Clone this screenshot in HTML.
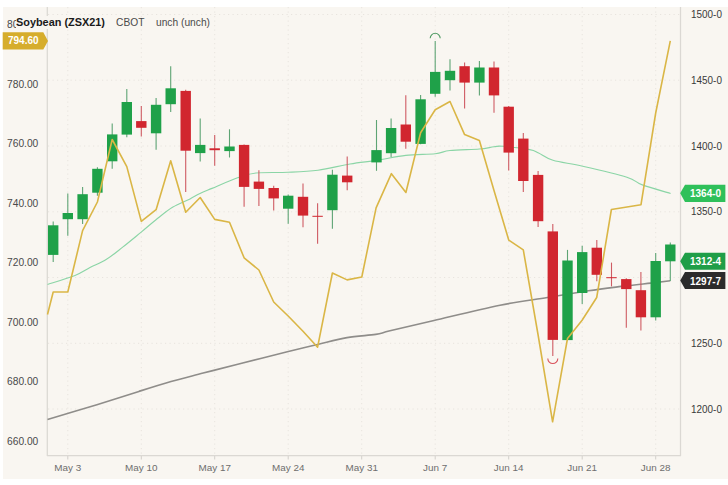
<!DOCTYPE html>
<html><head><meta charset="utf-8"><title>Soybean (ZSX21)</title>
<style>
html,body{margin:0;padding:0;background:#fff;}
body{width:728px;height:485px;overflow:hidden;position:relative;font-family:"Liberation Sans",sans-serif;}
#bg{position:absolute;left:2.5px;top:7px;width:725.5px;height:471.5px;background:#f9f6f1;}
svg{position:absolute;left:0;top:0;}
.grid{stroke:#e8e4de;stroke-width:1;stroke-dasharray:1.2 3.3;}
.ll,.rl,.xl,.t{position:absolute;color:#4a4a4a;white-space:nowrap;line-height:14px;height:14px;}
.ll{left:7px;font-size:10.7px;transform:scaleX(0.957);transform-origin:0 50%;}
.rl{left:690.9px;color:#3a3a3a;font-size:10.4px;transform:scaleX(0.955);transform-origin:0 50%;}
.xl{top:460.9px;width:60px;text-align:center;font-size:9.9px;color:#6e6e6e;}
.bl{position:absolute;color:#fff;font-weight:bold;font-size:10.7px;line-height:14px;white-space:nowrap;transform:scaleX(0.935);transform-origin:0 50%;}
#title{position:absolute;left:14.7px;top:12.6px;height:18px;line-height:18px;padding-left:1px;white-space:nowrap;color:#4a4a4a;font-size:10.6px;}
#title b{color:#1a1a1a;font-size:11px;display:inline-block;width:100.3px;height:13px;line-height:13px;background:linear-gradient(90deg,#f9f6f1 92px,transparent 92px);transform:scaleX(0.99);transform-origin:0 50%;}
#title span{display:inline-block;transform:scaleX(0.965);transform-origin:0 50%;}
#title span.c{width:40px;}
</style></head><body>
<div id="bg"></div>
<svg width="728" height="485" viewBox="0 0 728 485">
<line x1="48" y1="14.5" x2="680" y2="14.5" class="grid"/>
<line x1="48" y1="80.2" x2="680" y2="80.2" class="grid"/>
<line x1="48" y1="146" x2="680" y2="146" class="grid"/>
<line x1="48" y1="211.8" x2="680" y2="211.8" class="grid"/>
<line x1="48" y1="277.5" x2="680" y2="277.5" class="grid"/>
<line x1="48" y1="343.3" x2="680" y2="343.3" class="grid"/>
<line x1="48" y1="409" x2="680" y2="409" class="grid"/>
<line x1="67.8" y1="7" x2="67.8" y2="455" class="grid"/>
<line x1="67.8" y1="455.5" x2="67.8" y2="459.5" stroke="#d2cfca" stroke-width="1"/>
<line x1="141.3" y1="7" x2="141.3" y2="455" class="grid"/>
<line x1="141.3" y1="455.5" x2="141.3" y2="459.5" stroke="#d2cfca" stroke-width="1"/>
<line x1="214.7" y1="7" x2="214.7" y2="455" class="grid"/>
<line x1="214.7" y1="455.5" x2="214.7" y2="459.5" stroke="#d2cfca" stroke-width="1"/>
<line x1="288.2" y1="7" x2="288.2" y2="455" class="grid"/>
<line x1="288.2" y1="455.5" x2="288.2" y2="459.5" stroke="#d2cfca" stroke-width="1"/>
<line x1="361.7" y1="7" x2="361.7" y2="455" class="grid"/>
<line x1="361.7" y1="455.5" x2="361.7" y2="459.5" stroke="#d2cfca" stroke-width="1"/>
<line x1="435.2" y1="7" x2="435.2" y2="455" class="grid"/>
<line x1="435.2" y1="455.5" x2="435.2" y2="459.5" stroke="#d2cfca" stroke-width="1"/>
<line x1="508.7" y1="7" x2="508.7" y2="455" class="grid"/>
<line x1="508.7" y1="455.5" x2="508.7" y2="459.5" stroke="#d2cfca" stroke-width="1"/>
<line x1="582.2" y1="7" x2="582.2" y2="455" class="grid"/>
<line x1="582.2" y1="455.5" x2="582.2" y2="459.5" stroke="#d2cfca" stroke-width="1"/>
<line x1="655.7" y1="7" x2="655.7" y2="455" class="grid"/>
<line x1="655.7" y1="455.5" x2="655.7" y2="459.5" stroke="#d2cfca" stroke-width="1"/>
<line x1="47.3" y1="7" x2="47.3" y2="456" stroke="#dbd8d3" stroke-width="1.25"/>
<line x1="680.5" y1="7" x2="680.5" y2="456" stroke="#dbd8d3" stroke-width="1.25"/>
<line x1="47" y1="455.5" x2="681" y2="455.5" stroke="#dbd8d3" stroke-width="1.25"/>
<path d="M47.5 419.6 C55.7 417.1 81.7 409.4 96.9 404.7 C112.1 400.0 126.6 395.3 138.9 391.4 C151.2 387.5 160.3 384.6 171.0 381.5 C181.7 378.4 192.1 376.0 203.2 373.1 C214.3 370.2 223.8 367.8 237.8 364.2 C251.8 360.6 274.0 355.1 287.3 351.8 C300.6 348.5 307.7 346.9 317.6 344.5 C327.6 342.1 337.3 339.3 347.0 337.6 C356.7 335.9 368.5 335.5 375.7 334.4 C382.9 333.3 380.3 333.1 390.0 330.8 C399.7 328.5 415.7 324.8 434.0 320.5 C452.3 316.2 481.1 309.0 500.0 305.2 C518.9 301.4 532.8 299.9 547.5 297.5 C562.2 295.1 576.0 292.7 588.3 290.8 C600.6 288.9 611.0 287.7 621.4 286.4 C631.8 285.1 642.8 284.0 650.9 283.1 C659.0 282.2 667.1 281.2 670.3 280.8" fill="none" stroke="#8f8d8a" stroke-width="1.6" stroke-linejoin="round"/>
<path d="M47.5 284.5 C52.1 283.0 67.9 278.3 75.0 275.5 C82.1 272.7 84.8 270.3 90.0 267.6 C95.2 264.9 101.0 262.8 106.5 259.3 C112.0 255.9 117.2 251.4 123.0 246.9 C128.8 242.4 135.7 236.6 141.2 232.1 C146.7 227.6 150.8 223.8 156.0 219.7 C161.2 215.6 166.8 210.8 172.5 207.3 C178.2 203.8 185.4 201.2 190.0 198.9 C194.6 196.6 196.3 195.2 200.0 193.5 C203.7 191.8 205.8 191.0 212.0 188.4 C218.2 185.8 230.2 180.4 237.5 177.8 C244.8 175.2 247.6 173.9 256.0 173.0 C264.4 172.1 277.7 172.8 288.0 172.3 C298.3 171.9 307.7 171.7 318.0 170.3 C328.3 168.9 340.2 165.7 350.0 164.0 C359.8 162.3 367.2 161.8 376.5 160.4 C385.8 159.0 396.0 156.5 405.8 155.4 C415.6 154.3 427.8 154.6 435.2 153.8 C442.6 153.0 442.6 151.3 450.0 150.5 C457.4 149.7 472.1 149.6 479.4 149.0 C486.7 148.4 490.1 147.2 494.0 146.8 C497.9 146.4 497.1 145.8 503.0 146.3 C508.9 146.8 523.8 148.5 529.7 149.6 C535.6 150.7 534.7 151.1 538.6 152.9 C542.5 154.7 545.6 158.0 553.0 160.2 C560.4 162.4 570.4 163.4 582.7 166.2 C595.0 169.0 617.0 174.1 626.9 177.2 C636.8 180.3 635.0 182.2 642.3 184.9 C649.6 187.6 665.9 192.1 670.6 193.5" fill="none" stroke="#8bd5a6" stroke-width="1.15" stroke-linejoin="round"/>
<line x1="53.2" y1="221.4" x2="53.2" y2="262" stroke="#5ea474" stroke-width="1.1"/>
<rect x="48.0" y="225.3" width="10.4" height="29.6" fill="#1fa149"/>
<line x1="67.8" y1="193.6" x2="67.8" y2="235.7" stroke="#5ea474" stroke-width="1.1"/>
<rect x="62.6" y="213" width="10.4" height="6.2" fill="#1fa149"/>
<line x1="82.6" y1="186.9" x2="82.6" y2="224" stroke="#5ea474" stroke-width="1.1"/>
<rect x="77.4" y="194.2" width="10.4" height="25.0" fill="#1fa149"/>
<line x1="97.4" y1="167.3" x2="97.4" y2="195.8" stroke="#5ea474" stroke-width="1.1"/>
<rect x="92.2" y="168.8" width="10.4" height="23.9" fill="#1fa149"/>
<line x1="112.2" y1="123.6" x2="112.2" y2="168.8" stroke="#5ea474" stroke-width="1.1"/>
<rect x="107.0" y="134.4" width="10.4" height="26.9" fill="#1fa149"/>
<line x1="126.8" y1="89.1" x2="126.8" y2="137.3" stroke="#5ea474" stroke-width="1.1"/>
<rect x="121.6" y="102" width="10.4" height="32.6" fill="#1fa149"/>
<line x1="141.3" y1="105.9" x2="141.3" y2="136.4" stroke="#cf5b63" stroke-width="1.1"/>
<rect x="136.1" y="121.1" width="10.4" height="6.7" fill="#d1262f"/>
<line x1="156.1" y1="98" x2="156.1" y2="149.8" stroke="#5ea474" stroke-width="1.1"/>
<rect x="150.9" y="104.8" width="10.4" height="28.5" fill="#1fa149"/>
<line x1="170.7" y1="66.2" x2="170.7" y2="111.9" stroke="#5ea474" stroke-width="1.1"/>
<rect x="165.5" y="88.3" width="10.4" height="15.9" fill="#1fa149"/>
<line x1="185.7" y1="89.8" x2="185.7" y2="192" stroke="#cf5b63" stroke-width="1.1"/>
<rect x="180.5" y="90.9" width="10.4" height="59.8" fill="#d1262f"/>
<line x1="200.2" y1="118.5" x2="200.2" y2="161.5" stroke="#5ea474" stroke-width="1.1"/>
<rect x="195.0" y="144.9" width="10.4" height="8.2" fill="#1fa149"/>
<line x1="214.7" y1="135" x2="214.7" y2="165.7" stroke="#cf5b63" stroke-width="1.1"/>
<rect x="209.5" y="148.3" width="10.4" height="1.9" fill="#d1262f"/>
<line x1="229.5" y1="129.3" x2="229.5" y2="157.5" stroke="#5ea474" stroke-width="1.1"/>
<rect x="224.3" y="146.5" width="10.4" height="4.6" fill="#1fa149"/>
<line x1="244.1" y1="144.5" x2="244.1" y2="206.8" stroke="#cf5b63" stroke-width="1.1"/>
<rect x="238.9" y="144.9" width="10.4" height="42.0" fill="#d1262f"/>
<line x1="258.9" y1="170.3" x2="258.9" y2="206.1" stroke="#cf5b63" stroke-width="1.1"/>
<rect x="253.7" y="181.6" width="10.4" height="7.3" fill="#d1262f"/>
<line x1="273.7" y1="185.8" x2="273.7" y2="210.5" stroke="#cf5b63" stroke-width="1.1"/>
<rect x="268.5" y="188" width="10.4" height="10.4" fill="#d1262f"/>
<line x1="288.2" y1="194.6" x2="288.2" y2="223.8" stroke="#5ea474" stroke-width="1.1"/>
<rect x="283.0" y="195.7" width="10.4" height="13.0" fill="#1fa149"/>
<line x1="303" y1="183.6" x2="303" y2="227.2" stroke="#cf5b63" stroke-width="1.1"/>
<rect x="297.8" y="196.8" width="10.4" height="18.8" fill="#d1262f"/>
<line x1="317.6" y1="203.3" x2="317.6" y2="243.7" stroke="#cf5b63" stroke-width="1.1"/>
<rect x="312.4" y="215.8" width="10.4" height="1.0" fill="#d1262f"/>
<line x1="332.4" y1="169.7" x2="332.4" y2="228.7" stroke="#5ea474" stroke-width="1.1"/>
<rect x="327.2" y="174.7" width="10.4" height="35.5" fill="#1fa149"/>
<line x1="347.2" y1="156.4" x2="347.2" y2="190.2" stroke="#cf5b63" stroke-width="1.1"/>
<rect x="342.0" y="175.6" width="10.4" height="6.7" fill="#d1262f"/>
<line x1="376.5" y1="120" x2="376.5" y2="170.8" stroke="#5ea474" stroke-width="1.1"/>
<rect x="371.3" y="150.1" width="10.4" height="12.3" fill="#1fa149"/>
<line x1="391.1" y1="118.5" x2="391.1" y2="157.1" stroke="#5ea474" stroke-width="1.1"/>
<rect x="385.9" y="128" width="10.4" height="25.2" fill="#1fa149"/>
<line x1="405.8" y1="95.3" x2="405.8" y2="148.7" stroke="#cf5b63" stroke-width="1.1"/>
<rect x="400.6" y="124.5" width="10.4" height="17.2" fill="#d1262f"/>
<line x1="420.6" y1="95" x2="420.6" y2="144.2" stroke="#5ea474" stroke-width="1.1"/>
<rect x="415.4" y="99.3" width="10.4" height="44.6" fill="#1fa149"/>
<line x1="435.2" y1="41.1" x2="435.2" y2="96.8" stroke="#5ea474" stroke-width="1.1"/>
<rect x="430.0" y="71.9" width="10.4" height="21.9" fill="#1fa149"/>
<line x1="450" y1="59.2" x2="450" y2="90.5" stroke="#5ea474" stroke-width="1.1"/>
<rect x="444.8" y="70.8" width="10.4" height="9.4" fill="#1fa149"/>
<line x1="464.6" y1="62.5" x2="464.6" y2="108.6" stroke="#cf5b63" stroke-width="1.1"/>
<rect x="459.4" y="66.2" width="10.4" height="16.4" fill="#d1262f"/>
<line x1="479.4" y1="60.9" x2="479.4" y2="95.5" stroke="#5ea474" stroke-width="1.1"/>
<rect x="474.2" y="67.5" width="10.4" height="15.1" fill="#1fa149"/>
<line x1="494" y1="61.5" x2="494" y2="112.8" stroke="#cf5b63" stroke-width="1.1"/>
<rect x="488.8" y="67.5" width="10.4" height="27.9" fill="#d1262f"/>
<line x1="508.7" y1="106" x2="508.7" y2="170.6" stroke="#cf5b63" stroke-width="1.1"/>
<rect x="503.5" y="106.7" width="10.4" height="45.9" fill="#d1262f"/>
<line x1="523.3" y1="133" x2="523.3" y2="192" stroke="#cf5b63" stroke-width="1.1"/>
<rect x="518.1" y="138.6" width="10.4" height="42.4" fill="#d1262f"/>
<line x1="538.1" y1="171.1" x2="538.1" y2="227" stroke="#cf5b63" stroke-width="1.1"/>
<rect x="532.9" y="174.9" width="10.4" height="46.3" fill="#d1262f"/>
<line x1="552.8" y1="224.1" x2="552.8" y2="356" stroke="#cf5b63" stroke-width="1.1"/>
<rect x="547.6" y="231.4" width="10.4" height="108.5" fill="#d1262f"/>
<line x1="567.5" y1="249.9" x2="567.5" y2="340.1" stroke="#5ea474" stroke-width="1.1"/>
<rect x="562.3" y="260.5" width="10.4" height="79.6" fill="#1fa149"/>
<line x1="582.2" y1="245.7" x2="582.2" y2="304.1" stroke="#5ea474" stroke-width="1.1"/>
<rect x="577.0" y="252.1" width="10.4" height="40.9" fill="#1fa149"/>
<line x1="596.8" y1="240" x2="596.8" y2="281.3" stroke="#cf5b63" stroke-width="1.1"/>
<rect x="591.6" y="247.7" width="10.4" height="27.1" fill="#d1262f"/>
<line x1="611.5" y1="262.6" x2="611.5" y2="286.4" stroke="#cf5b63" stroke-width="1.1"/>
<rect x="606.3" y="277.2" width="10.4" height="1.0" fill="#d1262f"/>
<line x1="626.3" y1="278.3" x2="626.3" y2="327.7" stroke="#cf5b63" stroke-width="1.1"/>
<rect x="621.1" y="279.1" width="10.4" height="10.0" fill="#d1262f"/>
<line x1="640.9" y1="272" x2="640.9" y2="330.6" stroke="#cf5b63" stroke-width="1.1"/>
<rect x="635.7" y="290.2" width="10.4" height="27.1" fill="#d1262f"/>
<line x1="655.7" y1="253" x2="655.7" y2="320.6" stroke="#5ea474" stroke-width="1.1"/>
<rect x="650.5" y="261" width="10.4" height="56.3" fill="#1fa149"/>
<line x1="670.3" y1="242.4" x2="670.3" y2="281" stroke="#5ea474" stroke-width="1.1"/>
<rect x="665.1" y="244.5" width="10.4" height="16.8" fill="#1fa149"/>
<polyline points="47.5,314.5 53.2,292.0 67.8,292.0 82.6,230.6 97.4,202.0 112.2,139.5 126.8,166.6 141.3,221.4 156.1,209.7 170.7,160.7 185.7,212.3 200.2,197.5 214.7,219.4 229.5,222.3 244.1,257.8 258.9,270.0 273.7,302.0 288.4,316.3 303.0,331.2 317.6,347.2 332.4,273.0 347.1,279.9 361.8,277.0 376.1,207.8 391.4,173.7 405.9,192.5 420.6,132.8 435.2,109.7 450.0,101.5 464.6,134.6 479.4,140.6 494.0,190.4 508.8,240.2 523.3,249.9 538.1,335.0 552.6,421.8 567.5,338.5 582.1,320.2 596.7,297.5 611.4,209.5 641.0,204.7 655.7,113.0 670.3,40.9" fill="none" stroke="#dab646" stroke-width="1.6" stroke-linejoin="round"/>
<path d="M430.2 38.3 A5 5 0 0 1 440.2 38.3" fill="none" stroke="#4f9a63" stroke-width="1.1"/>
<path d="M547.8 358.5 A5 5 0 0 0 557.8 358.5" fill="none" stroke="#d9525c" stroke-width="1.1"/>
<path d="M680.2 193.3 L685 184.7 H725.4 V202 H685 Z" fill="#2fc05a"/>
<path d="M680.2 261.2 L685 252.7 H725.4 V269.7 H685 Z" fill="#1f9e48"/>
<path d="M680.2 280.4 L685 272 H725.4 V289 H685 Z" fill="#2b2b2b"/>
<path d="M2.7 32.3 H43.3 L48 40.9 L43.3 49.5 H2.7 Z" fill="#d6ad2c"/>
</svg>
<div class="ll" style="top:17.2px">800.00</div>
<div class="ll" style="top:76.7px">780.00</div>
<div class="ll" style="top:136.2px">760.00</div>
<div class="ll" style="top:195.7px">740.00</div>
<div class="ll" style="top:255.2px">720.00</div>
<div class="ll" style="top:314.7px">700.00</div>
<div class="ll" style="top:374.2px">680.00</div>
<div class="ll" style="top:433.7px">660.00</div>
<div class="rl" style="top:8.200000000000001px">1500-0</div>
<div class="rl" style="top:73.9px">1450-0</div>
<div class="rl" style="top:139.70000000000002px">1400-0</div>
<div class="rl" style="top:205.4px">1350-0</div>
<div class="rl" style="top:336.9px">1250-0</div>
<div class="rl" style="top:402.7px">1200-0</div>
<div class="xl" style="left:37.8px">May 3</div>
<div class="xl" style="left:111.30000000000001px">May 10</div>
<div class="xl" style="left:184.7px">May 17</div>
<div class="xl" style="left:258.2px">May 24</div>
<div class="xl" style="left:331.7px">May 31</div>
<div class="xl" style="left:405.2px">Jun 7</div>
<div class="xl" style="left:478.7px">Jun 14</div>
<div class="xl" style="left:552.2px">Jun 21</div>
<div class="xl" style="left:625.7px">Jun 28</div>
<div id="title"><b>Soybean (ZSX21)</b><span class="c">CBOT</span><span>unch (unch)</span></div>
<div class="bl" style="left:7.9px;top:33px">794.60</div>
<div class="bl" style="left:690px;top:186.4px">1364-0</div>
<div class="bl" style="left:690px;top:254.2px">1312-4</div>
<div class="bl" style="left:690px;top:273.6px">1297-7</div>
</body></html>
